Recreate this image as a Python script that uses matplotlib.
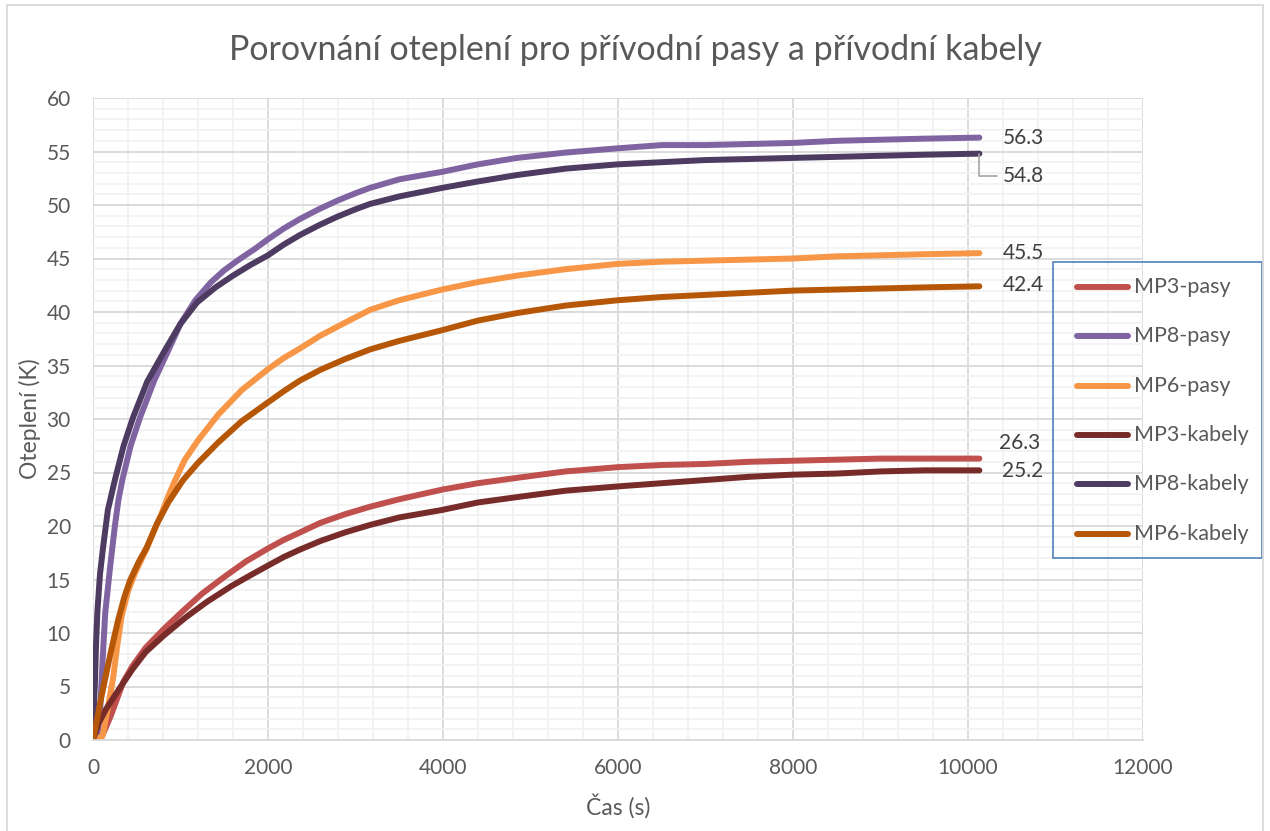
import matplotlib
matplotlib.use('Agg')
from matplotlib import pyplot as plt
from matplotlib.patches import Rectangle
from matplotlib.lines import Line2D

plt.rcParams['font.family'] = ['Lato', 'DejaVu Sans']

# time [s] and temperature rise [K] for each measuring point
t_mp3_pasy = [0, 100, 200, 345, 450, 600, 800, 1020, 1250, 1510, 1750, 2000, 2180, 2366, 2600, 2880, 3166, 3500,
              3990, 4400, 4845, 5400, 6000, 6500, 7000, 7500, 8000, 8500, 9000, 9500, 10130]
v_mp3_pasy = [0, 0.3, 2.2, 5.4, 6.9, 8.6, 10.3, 12.0, 13.7, 15.3, 16.7, 17.9, 18.7, 19.4, 20.3, 21.1, 21.8, 22.5,
              23.4, 24.0, 24.5, 25.1, 25.5, 25.7, 25.8, 26.0, 26.1, 26.2, 26.3, 26.3, 26.3]

t_mp8_pasy = [0, 50, 80, 110, 140, 200, 250, 290, 335, 430, 540, 700, 860, 1000, 1170, 1350, 1500, 1650, 1850, 2000,
              2180, 2366, 2580, 2790, 3000, 3166, 3500, 3990, 4400, 4845, 5400, 6000, 6500, 7000, 7500, 8000, 8500,
              9000, 9500, 10130]
v_mp8_pasy = [0, 0.3, 2.5, 7.5, 11.9, 16.5, 20.0, 22.4, 24.3, 27.5, 30.2, 33.6, 36.4, 38.9, 41.1, 42.8, 43.9, 44.8,
              45.9, 46.8, 47.8, 48.7, 49.6, 50.4, 51.1, 51.6, 52.4, 53.1, 53.8, 54.4, 54.9, 55.3, 55.6, 55.6, 55.7,
              55.8, 56.0, 56.1, 56.2, 56.3]

t_mp6_pasy = [0, 100, 115, 170, 230, 280, 328, 400, 480, 550, 614, 700, 785, 860, 940, 1050, 1200, 1430, 1700, 1990,
              2180, 2366, 2600, 2880, 3166, 3500, 3990, 4400, 4845, 5400, 6000, 6500, 7000, 7500, 8000, 8500, 9000,
              9500, 10130]
v_mp6_pasy = [0, 0.3, 0.6, 3.0, 5.8, 9.0, 11.6, 13.9, 15.6, 16.8, 17.9, 19.6, 21.2, 22.8, 24.3, 26.2, 28.0, 30.4,
              32.7, 34.6, 35.7, 36.6, 37.8, 39.0, 40.2, 41.1, 42.1, 42.8, 43.4, 44.0, 44.5, 44.7, 44.8, 44.9, 45.0,
              45.2, 45.3, 45.4, 45.5]

t_mp3_kabely = [0, 60, 150, 285, 450, 600, 800, 1050, 1300, 1585, 1800, 2000, 2180, 2366, 2600, 2880, 3166, 3500,
                3990, 4400, 4845, 5400, 6000, 6500, 7000, 7500, 8000, 8500, 9000, 9500, 10130]
v_mp3_kabely = [0, 1.5, 2.9, 4.6, 6.6, 8.2, 9.7, 11.4, 12.9, 14.4, 15.4, 16.3, 17.1, 17.8, 18.6, 19.4, 20.1, 20.8,
                21.5, 22.2, 22.7, 23.3, 23.7, 24.0, 24.3, 24.6, 24.8, 24.9, 25.1, 25.2, 25.2]

t_mp8_kabely = [0, 10, 23, 35, 50, 80, 115, 170, 250, 350, 460, 620, 820, 1000, 1190, 1400, 1600, 1800, 2000, 2180,
                2366, 2580, 2790, 3000, 3166, 3500, 3990, 4400, 4845, 5400, 6000, 6500, 7000, 7500, 8000, 8500,
                9000, 9500, 10130]
v_mp8_kabely = [0, 3.0, 5.6, 9.0, 12.0, 15.5, 18.0, 21.5, 24.3, 27.5, 30.2, 33.5, 36.4, 38.9, 40.9, 42.3, 43.4, 44.4,
                45.3, 46.3, 47.2, 48.1, 48.9, 49.6, 50.1, 50.8, 51.6, 52.2, 52.8, 53.4, 53.8, 54.0, 54.2, 54.3, 54.4,
                54.5, 54.6, 54.7, 54.8]

t_mp6_kabely = [0, 100, 200, 290, 360, 423, 520, 614, 730, 860, 1030, 1200, 1430, 1700, 1990, 2180, 2366, 2600,
                2880, 3166, 3500, 3990, 4400, 4845, 5400, 6000, 6500, 7000, 7500, 8000, 8500, 9000, 9500, 10130]
v_mp6_kabely = [0, 4.2, 8.1, 11.3, 13.4, 14.9, 16.6, 18.0, 20.2, 22.2, 24.3, 25.9, 27.8, 29.8, 31.5, 32.6, 33.6,
                34.6, 35.6, 36.5, 37.3, 38.3, 39.2, 39.9, 40.6, 41.1, 41.4, 41.6, 41.8, 42.0, 42.1, 42.2, 42.3, 42.4]

names = ['MP3-pasy', 'MP8-pasy', 'MP6-pasy', 'MP3-kabely', 'MP8-kabely', 'MP6-kabely']
colors = ['#C0504D', '#8064A2', '#F79646', '#772C2A', '#4D3B62', '#B65708']
series = [(t_mp3_pasy, v_mp3_pasy), (t_mp8_pasy, v_mp8_pasy), (t_mp6_pasy, v_mp6_pasy),
          (t_mp3_kabely, v_mp3_kabely), (t_mp8_kabely, v_mp8_kabely), (t_mp6_kabely, v_mp6_kabely)]
# label offsets (pixels) from the last point of each series
label_offsets = [(20, 16), (23, 0), (23, 0), (23, -1), (23, -22), (23, 1)]

grey = '#595959'
fig = plt.figure(figsize=(12.7, 8.31), dpi=100)
ax = fig.add_axes([93 / 1270, 91 / 831, 1050 / 1270, 642 / 831])

for (t, v), name, c in zip(series, names, colors):
    ax.plot(t, v, color=c, lw=4.3, solid_capstyle='round', solid_joinstyle='round', label=name)

for (t, v), c, off in zip(series, colors, label_offsets):
    kw = {}
    if off[1] < -10:
        kw['arrowprops'] = dict(arrowstyle='-', color='#A6A6A6', lw=1.2, shrinkA=2, shrinkB=0,
                                connectionstyle='angle,angleA=0,angleB=90,rad=0', relpos=(0, 0.5))
    ax.annotate(f'{v[-1]:.1f}', (t[-1], v[-1]), xytext=off, textcoords='offset pixels',
                ha='left', va='center', fontsize=15, color='#404040', **kw)

ax.set_xlim(0, 12000)
ax.set_ylim(0, 60)
ax.set_xticks(range(0, 12001, 2000))
ax.set_yticks(range(0, 61, 5))
ax.set_xticks(range(0, 12001, 400), minor=True)
ax.set_yticks(range(0, 61, 1), minor=True)
ax.grid(which='major', color='#D9D9D9', lw=1.3)
ax.grid(which='minor', color='#F2F2F2', lw=1.3)
ax.set_axisbelow(True)
for s in ['top', 'right', 'left']:
    ax.spines[s].set_visible(False)
ax.spines['bottom'].set_color('#D9D9D9')
ax.spines['bottom'].set_linewidth(1.3)
ax.tick_params(which='both', length=0)
ax.tick_params(axis='y', pad=16, labelsize=15, labelcolor=grey)
ax.tick_params(axis='x', pad=13, labelsize=15, labelcolor=grey)

ax.set_xlabel('Čas (s)', fontsize=16.5, color=grey, labelpad=11)
ax.set_ylabel('Oteplení (K)', fontsize=16.5, color=grey, labelpad=4)
fig.text(0.5, 1 - 50 / 831, 'Porovnání oteplení pro přívodní pasy a přívodní kabely',
         ha='center', va='center', fontsize=24.5, color=grey)

# legend box on the right
fig.patches.append(Rectangle((1053 / 1270, 1 - 558 / 831), 209 / 1270, 296 / 831,
                             transform=fig.transFigure, fill=False, edgecolor='#4F81BD', lw=1.2))
for i, (name, c) in enumerate(zip(names, colors)):
    y = 1 - (287 + i * 49.3) / 831
    fig.lines.append(Line2D([1077 / 1270, 1128 / 1270], [y, y], transform=fig.transFigure,
                            color=c, lw=4.3, solid_capstyle='round'))
    fig.text(1134 / 1270, y, name, ha='left', va='center', fontsize=15.5, color=grey)

# chart area border
fig.patches.append(Rectangle((7 / 1270, -0.05), 1256 / 1270, 1.05 - 5 / 831,
                             transform=fig.transFigure, fill=False, edgecolor='#D9D9D9', lw=1.3))

fig.savefig('out.png', dpi=100)
